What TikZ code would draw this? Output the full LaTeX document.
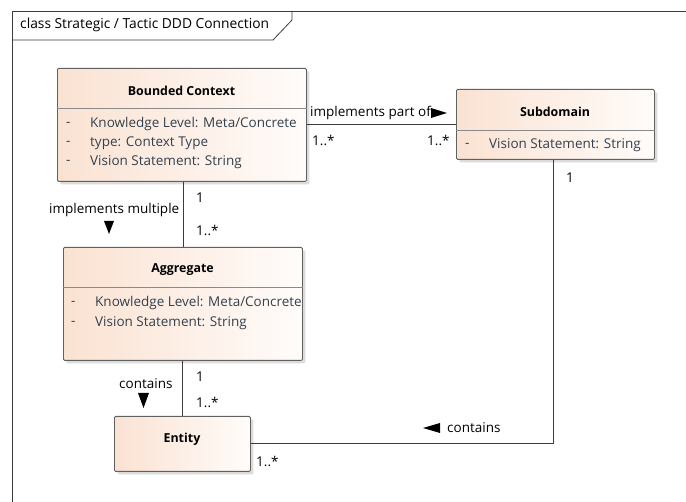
\documentclass[tikz,border=0pt]{standalone}
\usepackage{fontspec}
\setmainfont{Open Sans}
\usetikzlibrary{shadows}
\definecolor{boxleft}{HTML}{FAE2D2}
\definecolor{boxright}{HTML}{FFFCFA}
\definecolor{edge}{HTML}{3C3C3C}
\definecolor{boxedge}{HTML}{606060}
\definecolor{sep}{HTML}{8A8A8A}
\definecolor{attr}{HTML}{34414E}
\begin{document}
\begin{tikzpicture}[x=1pt,y=-1pt,
  umlbox/.style={draw=boxedge, line width=0.8pt, rounded corners=1.2pt,
    left color=boxleft, right color=boxright, anchor=north west, inner sep=0pt,
    drop shadow={shadow xshift=3pt, shadow yshift=-3pt, fill=black!30, opacity=0.45}},
  title/.style={font=\fontsize{12.4}{14}\selectfont\bfseries, inner sep=0pt},
  attrtxt/.style={font=\fontsize{13.5}{15}\selectfont, text=attr, anchor=west, inner sep=0pt},
  lbl/.style={font=\fontsize{13.5}{15}\selectfont, anchor=west, inner sep=0pt},
  conn/.style={draw=edge, line width=0.8pt},
  sepline/.style={draw=sep, line width=0.8pt},
  tri/.style={fill=black}]
\useasboundingbox (0,0) rectangle (686,502);
\fill[white] (0,0) rectangle (686,502);

% diagram frame with name tab
\draw[edge, line width=0.8pt] (686,11) -- (12,11) -- (12,502);
\draw[edge, line width=0.8pt] (12,40) -- (273,40) -- (292,20) -- (292,11);
\node[lbl, font=\fontsize{13.8}{15}\selectfont] (frametitle) at (20,25) {class Strategic / Tactic DDD Connection};

% classes
\node[umlbox, minimum width=249pt, minimum height=113pt] (bc) at (57,68) {};
\node[umlbox, minimum width=198pt, minimum height=70pt] (sub) at (456,89) {};
\node[umlbox, minimum width=239pt, minimum height=113pt] (agg) at (63,247) {};
\node[umlbox, minimum width=136pt, minimum height=55pt] (ent) at (114,416) {};

% compartments
\draw[sepline] ([yshift=-40pt]bc.north west) -- ([yshift=-40pt]bc.north east);
\draw[sepline] ([yshift=-41pt]sub.north west) -- ([yshift=-41pt]sub.north east);
\draw[sepline] ([yshift=-40pt]agg.north west) -- ([yshift=-40pt]agg.north east);

% class names
\node[title] (bcname) at (181.5,91) {Bounded Context};
\node[title] (subname) at (555,112) {Subdomain};
\node[title] (aggname) at (182.5,270) {Aggregate};
\node[title] (entname) at (182,439) {Entity};

% attributes
\node[attrtxt] (bcd1) at (66,124) {-};
\node[attrtxt] (bca1) at (90,124) {Knowledge Level: Meta/Concrete};
\node[attrtxt] (bcd2) at (66,143) {-};
\node[attrtxt] (bca2) at (90,143) {type: Context Type};
\node[attrtxt] (bcd3) at (66,162) {-};
\node[attrtxt] (bca3) at (90,162) {Vision Statement: String};
\node[attrtxt] (subd1) at (465,145) {-};
\node[attrtxt] (suba1) at (489,145) {Vision Statement: String};
\node[attrtxt] (aggd1) at (71,303) {-};
\node[attrtxt] (agga1) at (95,303) {Knowledge Level: Meta/Concrete};
\node[attrtxt] (aggd2) at (71,323) {-};
\node[attrtxt] (agga2) at (95,323) {Vision Statement: String};

% associations
\draw[conn] (sub.west) -- (sub.west -| bc.east);
\draw[conn] (agg.north |- bc.south) -- (agg.north);
\draw[conn] (agg.south -| ent.north) -- (ent.north);
\draw[conn] (ent.east) -| ([xshift=-2pt]sub.south);

% association names and multiplicities
\node[lbl] (l1) at (310,113) {implements part of};
\fill[tri] (431,108) -- (447,113) -- (431,118) -- cycle;
\node[lbl] (m1) at (312,140) {1..*};
\node[lbl] (m2) at (427,140) {1..*};
\node[lbl] (m3) at (566,178) {1};

\node[lbl] (l2) at (49,210) {implements multiple};
\fill[tri] (104,221) -- (114,221) -- (109,234) -- cycle;
\node[lbl] (m4) at (196,198) {1};
\node[lbl] (m5) at (196,230) {1..*};

\node[lbl] (l3) at (119,384) {contains};
\fill[tri] (138,393) -- (149,393) -- (143.5,408) -- cycle;
\node[lbl] (m6) at (196,377) {1};
\node[lbl] (m7) at (196,402) {1..*};

\fill[tri] (440,423) -- (423,428) -- (440,433) -- cycle;
\node[lbl] (l4) at (447,428) {contains};
\node[lbl] (m8) at (256,461) {1..*};
\end{tikzpicture}
\end{document}
